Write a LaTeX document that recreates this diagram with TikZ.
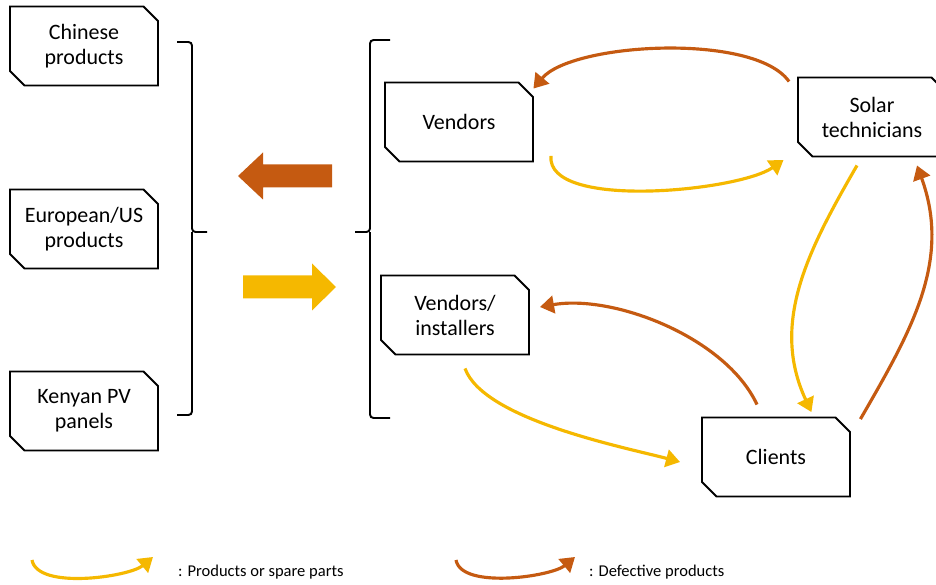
\documentclass[tikz,border=0pt]{standalone}
\usepackage{fontspec}
\setmainfont{Carlito}
\usetikzlibrary{shapes.misc,arrows.meta}

\definecolor{prodc}{HTML}{F5B800}
\definecolor{defc}{HTML}{C55A11}

\tikzset{
  box/.style={draw, line width=1.1pt, chamfered rectangle,
    chamfered rectangle corners={north east,south west},
    chamfered rectangle xsep=0.15cm, chamfered rectangle ysep=0.14cm,
    minimum width=2.96cm, minimum height=1.58cm, inner sep=0pt,
    align=center, font=\fontsize{12.5}{14.2}\selectfont},
  prod/.style={draw=prodc, line width=1.8pt, -{Triangle[length=8pt,width=10pt]}},
  defect/.style={draw=defc, line width=1.8pt, -{Triangle[length=8pt,width=10pt]}},
  brack/.style={draw, line width=1.1pt, rounded corners=2pt},
  legtext/.style={anchor=west, font=\fontsize{9.4}{11}\selectfont}
}

\begin{document}
\begin{tikzpicture}
\useasboundingbox (0,0) rectangle (18.72,11.68);

% Sources
\node[box] (chin) at (1.68,10.76) {Chinese\\products};
\node[box] (euro) at (1.68,7.10) {European/US\\products};
\node[box] (keny) at (1.68,3.46) {Kenyan PV\\panels};

% Actors
\node[box] (vend) at (9.18,9.24) {Vendors};
\node[box] (inst) at (9.10,5.38) {Vendors/\\installers};
\node[box] (sol) at (17.44,9.34) {Solar\\technicians};
\node[box] (cli) at (15.52,2.54) {Clients};

% Brackets
\draw[brack] (3.54,10.84) -| (3.84,7.04) -- (4.14,7.04);
\draw[brack] (3.84,7.04) |- (3.54,3.38);
\draw[brack] (7.80,10.88) -| (7.40,7.04) -- (7.10,7.04);
\draw[brack] (7.40,7.04) |- (7.80,3.32);

% Block arrows
\fill[defc] (4.76,8.16) -- (5.26,8.63) -- (5.26,8.39) -- (6.64,8.39)
  -- (6.64,7.93) -- (5.26,7.93) -- (5.26,7.69) -- cycle;
\fill[prodc] (6.72,5.94) -- (6.24,6.41) -- (6.24,6.17) -- (4.86,6.17)
  -- (4.86,5.71) -- (6.24,5.71) -- (6.24,5.47) -- cycle;

% Flows
\draw[defect] ([xshift=-0.16cm,yshift=-0.1cm]sol.north west) to[out=125,in=50,looseness=0.6] ([xshift=0.14cm,yshift=0.01cm]vend.north east);
\draw[prod] ([xshift=0.34cm,yshift=0.13cm]vend.south east) to[out=-95,in=-145,looseness=0.6] ([xshift=-0.42cm,yshift=-0.2cm]sol.south west);
\draw[prod] ([xshift=-0.3cm,yshift=-0.16cm]sol.south) to[out=240,in=115,looseness=1.0] ([xshift=-0.64cm,yshift=0.24cm]cli.north east);
\draw[defect] ([xshift=0.34cm,yshift=0.1cm]cli.north east) to[out=60,in=-70,looseness=1.0] ([xshift=0.9cm,yshift=-0.16cm]sol.south);
\draw[defect] ([xshift=-0.38cm,yshift=0.24cm]cli.north) to[out=115,in=10,looseness=0.8] ([xshift=0.2cm,yshift=0.16cm]inst.east);
\draw[prod] ([xshift=0.2cm,yshift=-0.26cm]inst.south) to[out=-70,in=165,looseness=0.6] ([xshift=-0.42cm,yshift=-0.1cm]cli.west);

% Legend
\node[legtext] (lgp) at (3.44,0.24) {: Products or spare parts};
\node[legtext] (lgd) at (11.66,0.24) {: Defective products};
\coordinate (lp1) at (0.64,0.48);
\coordinate (lp2) at (3.06,0.54);
\coordinate (ld1) at (9.12,0.48);
\coordinate (ld2) at (11.50,0.54);
\draw[prod] (lp1) to[out=-80,in=-140,looseness=0.65] (lp2);
\draw[defect] (ld1) to[out=-80,in=-140,looseness=0.65] (ld2);
\end{tikzpicture}
\end{document}
